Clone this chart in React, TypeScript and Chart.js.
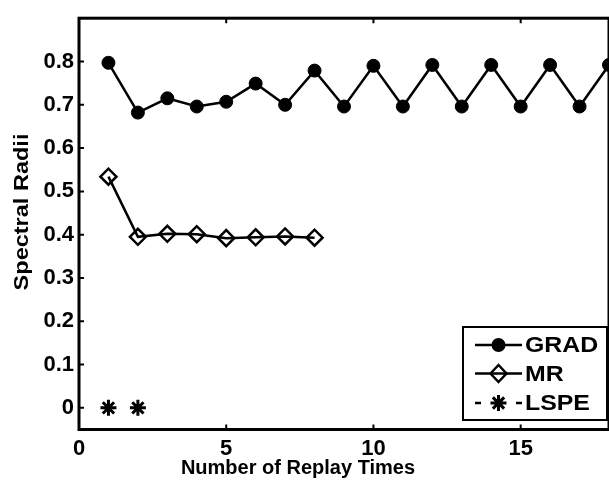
import React, { useEffect, useRef } from 'react';
import { Chart, registerables } from 'chart.js';

Chart.register(...registerables);

// ---- data ----
const GRAD_X = [1, 2, 3, 4, 5, 6, 7, 8, 9, 10, 11, 12, 13, 14, 15, 16, 17, 18];
const GRAD_Y = [0.797, 0.682, 0.715, 0.696, 0.707, 0.749, 0.700, 0.779, 0.696, 0.790, 0.696, 0.792, 0.696, 0.792, 0.696, 0.792, 0.696, 0.792];
const MR_X = [1, 2, 3, 4, 5, 6, 7, 8];
const MR_Y = [0.534, 0.395, 0.402, 0.401, 0.392, 0.394, 0.396, 0.393];
const LSPE_X = [1, 2];
const LSPE_Y = [0, 0];
const X_TICKS = [0, 5, 10, 15];
const Y_TICKS = [0, 0.1, 0.2, 0.3, 0.4, 0.5, 0.6, 0.7, 0.8];
const X_MIN = 0;
const X_MAX = 18;
const Y_MIN = -0.05;
const Y_MAX = 0.9;
const SERIES_NAMES = ['GRAD', 'MR', 'LSPE'];
const X_TITLE = 'Number of Replay Times';
const Y_TITLE = 'Spectral Radii';

const FONT_FAMILY = '"Liberation Sans", Arial, Helvetica, sans-serif';
const CANVAS_W = 620;
const CANVAS_H = 486;

const toPoints = (xs: number[], ys: number[]) => xs.map((x, i) => ({ x, y: ys[i] }));

function drawMarker(ctx: CanvasRenderingContext2D, kind: string, x: number, y: number) {
  ctx.save();
  ctx.strokeStyle = '#000';
  ctx.fillStyle = '#000';
  if (kind === 'circle') {
    ctx.beginPath();
    ctx.arc(x, y, 7, 0, Math.PI * 2);
    ctx.fill();
  } else if (kind === 'diamond') {
    ctx.lineWidth = 2.5;
    ctx.beginPath();
    ctx.moveTo(x - 8, y);
    ctx.lineTo(x, y - 8.5);
    ctx.lineTo(x + 8, y);
    ctx.lineTo(x, y + 8.5);
    ctx.closePath();
    ctx.stroke();
  } else {
    ctx.lineWidth = 3;
    ctx.beginPath();
    for (let k = 0; k < 4; k++) {
      const a = (k * Math.PI) / 4;
      ctx.moveTo(x - Math.cos(a) * 8, y - Math.sin(a) * 8);
      ctx.lineTo(x + Math.cos(a) * 8, y + Math.sin(a) * 8);
    }
    ctx.stroke();
  }
  ctx.restore();
}

const framePlugin = {
  id: 'matlabFrame',
  afterDraw(chart: any) {
    const ctx = chart.ctx as CanvasRenderingContext2D;
    const { left, right, top, bottom } = chart.chartArea;
    const xs = chart.scales.x;
    const ys = chart.scales.y;
    ctx.save();
    ctx.strokeStyle = '#000';
    ctx.lineWidth = 3;
    ctx.strokeRect(left, top, right - left, bottom - top);
    // inward ticks
    ctx.lineWidth = 2;
    ctx.beginPath();
    X_TICKS.forEach((v) => {
      const px = xs.getPixelForValue(v);
      ctx.moveTo(px, bottom);
      ctx.lineTo(px, bottom - 5);
      ctx.moveTo(px, top);
      ctx.lineTo(px, top + 5);
    });
    Y_TICKS.forEach((v) => {
      const py = ys.getPixelForValue(v);
      ctx.moveTo(left, py);
      ctx.lineTo(left + 5, py);
    });
    ctx.stroke();

    // axis titles
    ctx.fillStyle = '#000';
    ctx.font = `bold 20px ${FONT_FAMILY}`;
    ctx.textAlign = 'center';
    ctx.textBaseline = 'middle';
    ctx.fillText(X_TITLE, 298, 468);
    ctx.save();
    ctx.translate(22, 212);
    ctx.rotate(-Math.PI / 2);
    ctx.scale(1.12, 1);
    ctx.font = `bold 21px ${FONT_FAMILY}`;
    ctx.fillText(Y_TITLE, 0, 0);
    ctx.restore();

    // legend
    const bx = 463, by = 327, bw = 144, bh = 93;
    ctx.fillStyle = '#fff';
    ctx.fillRect(bx, by, bw, bh);
    ctx.lineWidth = 2;
    ctx.strokeStyle = '#000';
    ctx.strokeRect(bx, by, bw, bh);
    const rows = [345, 373.5, 403];
    const kinds = ['circle', 'diamond', 'star'];
    const lx0 = 475, lx1 = 522, mx = 498.5;
    chart.data.datasets.forEach((ds: any, i: number) => {
      const y = rows[i];
      ctx.strokeStyle = '#000';
      ctx.lineWidth = 2.5;
      ctx.beginPath();
      if (i === 2) {
        ctx.moveTo(lx0, y); ctx.lineTo(lx0 + 6, y);
        ctx.moveTo(lx1 - 6, y); ctx.lineTo(lx1, y);
      } else {
        ctx.moveTo(lx0, y); ctx.lineTo(lx1, y);
      }
      ctx.stroke();
      drawMarker(ctx, kinds[i], mx, y);
      ctx.save();
      ctx.translate(525, y + 1);
      ctx.scale(1.13, 1);
      ctx.fillStyle = '#000';
      ctx.font = `bold 22px ${FONT_FAMILY}`;
      ctx.textAlign = 'left';
      ctx.textBaseline = 'middle';
      ctx.fillText(ds.label, 0, 0);
      ctx.restore();
    });
    ctx.restore();
  },
};

export default function App() {
  const ref = useRef<HTMLCanvasElement | null>(null);
  useEffect(() => {
    document.body.style.margin = '0';
    document.body.style.overflow = 'hidden';
    const canvas = ref.current!;
    const chart = new Chart(canvas, {
      type: 'line',
      data: {
        datasets: [
          {
            label: SERIES_NAMES[0],
            data: toPoints(GRAD_X, GRAD_Y),
            borderColor: '#000',
            borderWidth: 2.5,
            pointStyle: 'circle',
            pointRadius: 6.5,
            pointBackgroundColor: '#000',
            pointBorderColor: '#000',
            pointBorderWidth: 1,
            clip: false,
          },
          {
            label: SERIES_NAMES[1],
            data: toPoints(MR_X, MR_Y),
            borderColor: '#000',
            borderWidth: 2.5,
            pointStyle: 'rectRot',
            pointRadius: 8,
            pointBackgroundColor: 'rgba(0,0,0,0)',
            pointBorderColor: '#000',
            pointBorderWidth: 2.5,
          },
          {
            label: SERIES_NAMES[2],
            data: toPoints(LSPE_X, LSPE_Y),
            borderColor: '#000',
            borderWidth: 2,
            borderDash: [6, 6],
            showLine: false,
            pointStyle: 'star',
            pointRadius: 8,
            pointBackgroundColor: '#000',
            pointBorderColor: '#000',
            pointBorderWidth: 3,
          },
        ] as any,
      },
      plugins: [framePlugin],
      options: {
        responsive: false,
        animation: false,
        devicePixelRatio: 1,
        layout: { padding: { top: 6, right: CANVAS_W - 613.6, left: 0, bottom: 0 } },
        plugins: { legend: { display: false }, tooltip: { enabled: false } },
        elements: { line: { tension: 0 } },
        scales: {
          x: {
            type: 'linear',
            min: X_MIN,
            max: X_MAX,
            grid: { display: false, drawTicks: false },
            border: { display: false },
            afterBuildTicks: (s: any) => { s.ticks = X_TICKS.map((v) => ({ value: v })); },
            afterFit: (s: any) => { s.height = CANVAS_H - 429.5; },
            ticks: {
              color: '#000',
              font: { family: FONT_FAMILY, size: 22, weight: 'bold' },
              padding: 6,
              maxRotation: 0,
              autoSkip: false,
              callback: (v: any) => String(v),
            },
          },
          y: {
            type: 'linear',
            min: Y_MIN,
            max: Y_MAX,
            grid: { display: false, drawTicks: false },
            border: { display: false },
            afterBuildTicks: (s: any) => { s.ticks = Y_TICKS.map((v) => ({ value: v })); },
            afterFit: (s: any) => { s.width = 79; },
            ticks: {
              color: '#000',
              font: { family: FONT_FAMILY, size: 22, weight: 'bold' },
              padding: 5,
              autoSkip: false,
              callback: (v: any) => (Number(v) === 0 ? '0' : Number(v).toFixed(1)),
            },
          },
        },
      } as any,
    });
    return () => chart.destroy();
  }, []);
  return (
    <div style={{ width: 609, height: 486, overflow: 'hidden', position: 'relative', background: '#fff' }}>
      <canvas ref={ref} width={CANVAS_W} height={CANVAS_H} style={{ width: CANVAS_W, height: CANVAS_H, display: 'block' }} />
    </div>
  );
}
